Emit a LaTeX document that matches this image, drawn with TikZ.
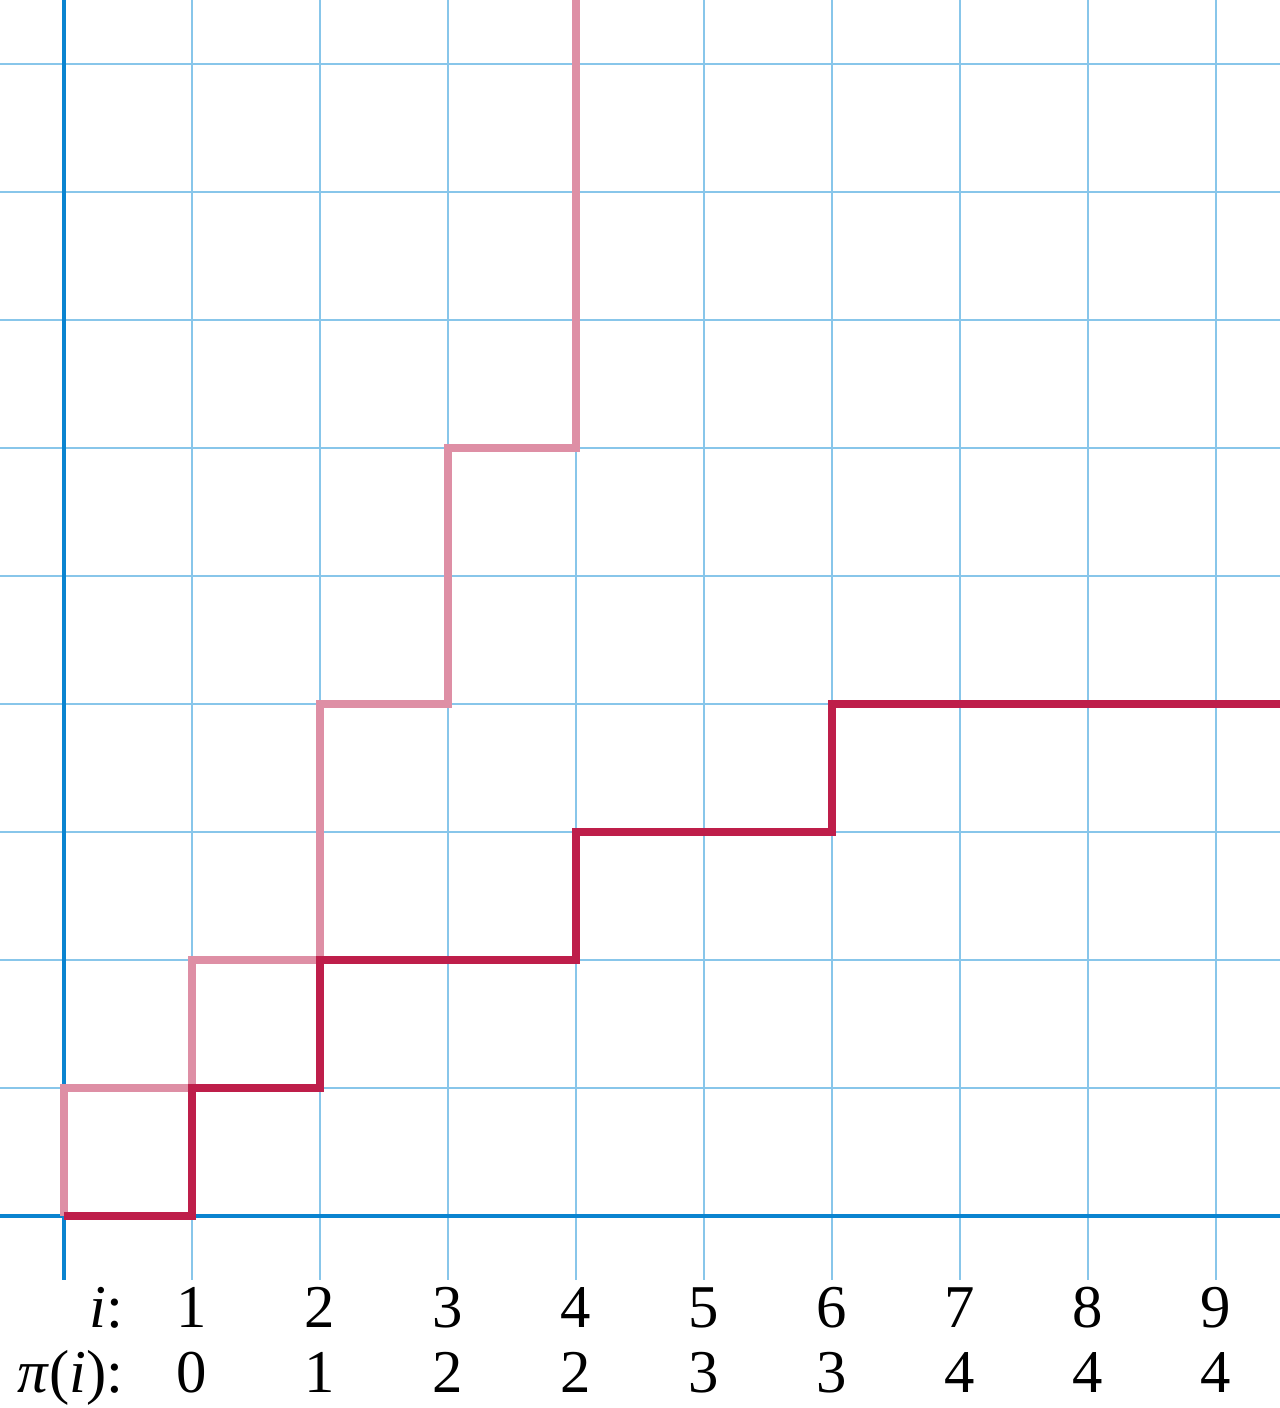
\documentclass[tikz,border=0pt]{standalone}
\usepackage{fontspec}
\setmainfont{Liberation Serif}
\usepackage{xcolor}
\usetikzlibrary{positioning}
\definecolor{axisblue}{HTML}{0A84D0}
\definecolor{gridblue}{HTML}{88C6EA}
\definecolor{pathred}{HTML}{BE1E4A}
\definecolor{pathpink}{HTML}{DE8FA5}

\begin{document}
\begin{tikzpicture}[
    every node/.style={font=\fontsize{13.5}{16}\selectfont, inner sep=0pt},
    gridline/.style={gridblue, line width=0.45pt},
    axisline/.style={axisblue, line width=1.1pt},
    steppath/.style={line width=1.8pt, line join=miter},
    rowlabel/.style={anchor=base east},
    num/.style={anchor=base},
]
\useasboundingbox (-0.5,-1.5) rectangle (9.5,9.5);

% Grid
\foreach \k in {1,...,9} {
    \draw[gridline] (\k,-0.5) -- (\k,9.5);
    \draw[gridline] (-0.5,\k) -- (9.5,\k);
}

% Axes
\draw[axisline] (0,-0.5) -- (0,9.5);
\draw[axisline] (-0.5,0) -- (9.5,0);

% Step paths
\draw[steppath, pathpink] (0,0) -- (0,1) -- (1,1) -- (1,2) -- (2,2) -- (2,4) -- (3,4) -- (3,6) -- (4,6) -- (4,9.5);
\draw[steppath, pathred] (0,0) -- (1,0) -- (1,1) -- (2,1) -- (2,2) -- (4,2) -- (4,3) -- (6,3) -- (6,4) -- (9.5,4);

% Table of values
\node[rowlabel] (ilabel) at (0.47,-0.875) {\textit{i}:};
\node[rowlabel] (pilabel) at (0.47,-1.375) {\textit{π}(\textit{i}):};
\foreach \i/\p in {1/0, 2/1, 3/2, 4/2, 5/3, 6/3, 7/4, 8/4, 9/4} {
    \node[num] (i\i) at (\i,-0.875) {\i};
    \node[num] (p\i) at (\i,-1.375) {\p};
}

\end{tikzpicture}
\end{document}
